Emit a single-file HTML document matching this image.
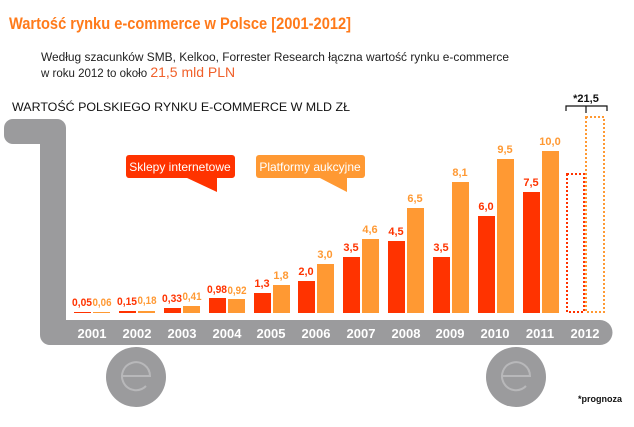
<!DOCTYPE html>
<html><head><meta charset="utf-8"><style>
html,body{margin:0;padding:0;background:#fff;width:634px;height:427px;overflow:hidden}
svg{display:block}
</style></head><body>
<svg width="634" height="427" viewBox="0 0 634 427" xmlns="http://www.w3.org/2000/svg" font-family="Liberation Sans, DejaVu Sans, sans-serif">
<text x="9" y="29" font-size="17" font-weight="bold" fill="#ff7a1a" textLength="342" lengthAdjust="spacingAndGlyphs">Wartość rynku e-commerce w Polsce [2001-2012]</text>
<text x="41" y="61" font-size="11.5" fill="#222" textLength="468" lengthAdjust="spacingAndGlyphs">Według szacunków SMB, Kelkoo, Forrester Research łączna wartość rynku e-commerce</text>
<text x="41" y="77" font-size="11.5" fill="#222">w roku 2012 to około <tspan font-size="14" fill="#f0602a">21,5 mld PLN</tspan></text>
<text x="12" y="111" font-size="12" fill="#111" textLength="338" lengthAdjust="spacingAndGlyphs">WARTOŚĆ POLSKIEGO RYNKU E-COMMERCE W MLD ZŁ</text>
<g fill="#9b9b9d">
<rect x="4" y="119" width="62" height="25" rx="9"/>
<path d="M40 130 H66 V320 H600 a12.5 12.5 0 0 1 0 25 H50 a10 10 0 0 1 -10 -10 Z"/>
<circle cx="136" cy="377" r="30"/>
<circle cx="516" cy="377" r="30"/>
</g>
<g fill="none" stroke="#b8b8ba" stroke-width="2">
<path d="M122 376 H150 A14 14 0 1 0 146 386"/>
<path d="M502 376 H530 A14 14 0 1 0 526 386"/>
</g>
<g font-size="13" font-weight="bold" fill="#fff" text-anchor="middle">
<text x="92" y="338">2001</text><text x="137" y="338">2002</text><text x="182" y="338">2003</text><text x="227" y="338">2004</text><text x="271" y="338">2005</text><text x="316" y="338">2006</text><text x="361" y="338">2007</text><text x="406" y="338">2008</text><text x="450" y="338">2009</text><text x="495" y="338">2010</text><text x="540" y="338">2011</text><text x="585" y="338">2012</text>
</g>
<rect x="126" y="155" width="109" height="23" rx="3" fill="#ff3300"/>
<path d="M185 177 L217 192 L217 177 Z" fill="#ff3300"/>
<text x="180" y="171" font-size="12" fill="#fff" text-anchor="middle">Sklepy internetowe</text>
<rect x="256" y="155" width="109" height="23" rx="3" fill="#ff9933"/>
<path d="M318 177 L347 192 L347 177 Z" fill="#ff9933"/>
<text x="310" y="171" font-size="12" fill="#fff" text-anchor="middle">Platformy aukcyjne</text>
<g>
<rect x="74" y="312" width="17" height="1" fill="#ff3300"/><rect x="93" y="312" width="17" height="1" fill="#ff9933"/>
<rect x="119" y="311" width="17" height="2" fill="#ff3300"/><rect x="138" y="311" width="17" height="2" fill="#ff9933"/>
<rect x="164" y="308" width="17" height="5" fill="#ff3300"/><rect x="183" y="306" width="17" height="7" fill="#ff9933"/>
<rect x="209" y="298" width="17" height="15" fill="#ff3300"/><rect x="228" y="299" width="17" height="14" fill="#ff9933"/>
<rect x="254" y="293" width="17" height="20" fill="#ff3300"/><rect x="273" y="285" width="17" height="28" fill="#ff9933"/>
<rect x="298" y="281" width="17" height="32" fill="#ff3300"/><rect x="317" y="264" width="17" height="49" fill="#ff9933"/>
<rect x="343" y="257" width="17" height="56" fill="#ff3300"/><rect x="362" y="239" width="17" height="74" fill="#ff9933"/>
<rect x="388" y="241" width="17" height="72" fill="#ff3300"/><rect x="407" y="208" width="17" height="105" fill="#ff9933"/>
<rect x="433" y="257" width="17" height="56" fill="#ff3300"/><rect x="452" y="182" width="17" height="131" fill="#ff9933"/>
<rect x="478" y="216" width="17" height="97" fill="#ff3300"/><rect x="497" y="159" width="17" height="154" fill="#ff9933"/>
<rect x="523" y="192" width="17" height="121" fill="#ff3300"/><rect x="542" y="151" width="17" height="162" fill="#ff9933"/>
<rect x="567" y="174" width="17" height="138" fill="none" stroke="#ff3300" stroke-width="2" stroke-dasharray="2 2"/>
<rect x="586" y="117" width="18" height="195" fill="none" stroke="#ff9933" stroke-width="2" stroke-dasharray="2 2"/>
</g>
<g font-size="11" font-weight="bold" text-anchor="middle">
<g fill="#ff3300">
<text x="82" y="306" textLength="20" lengthAdjust="spacingAndGlyphs">0,05</text><text x="127" y="305" textLength="20" lengthAdjust="spacingAndGlyphs">0,15</text><text x="172" y="302" textLength="20" lengthAdjust="spacingAndGlyphs">0,33</text><text x="217" y="293" textLength="20" lengthAdjust="spacingAndGlyphs">0,98</text><text x="262" y="287">1,3</text><text x="306" y="275">2,0</text><text x="351" y="251">3,5</text><text x="396" y="235">4,5</text><text x="441" y="251">3,5</text><text x="486" y="210">6,0</text><text x="531" y="186">7,5</text>
</g>
<g fill="#ff9933">
<text x="102" y="306" textLength="19" lengthAdjust="spacingAndGlyphs">0,06</text><text x="147" y="304" textLength="19" lengthAdjust="spacingAndGlyphs">0,18</text><text x="192" y="300" textLength="19" lengthAdjust="spacingAndGlyphs">0,41</text><text x="237" y="294" textLength="19" lengthAdjust="spacingAndGlyphs">0,92</text><text x="281" y="279">1,8</text><text x="325" y="258">3,0</text><text x="370" y="233">4,6</text><text x="415" y="202">6,5</text><text x="460" y="176">8,1</text><text x="505" y="153">9,5</text><text x="550" y="145">10,0</text>
</g>
</g>
<path d="M566 111 V106 H607 V111 M586 106 V113" fill="none" stroke="#111" stroke-width="1.2"/>
<text x="586" y="102" font-size="11" font-weight="bold" fill="#111" text-anchor="middle">*21,5</text>
<text x="578" y="402" font-size="9" font-weight="bold" fill="#111">*prognoza</text>
</svg>
</body></html>
